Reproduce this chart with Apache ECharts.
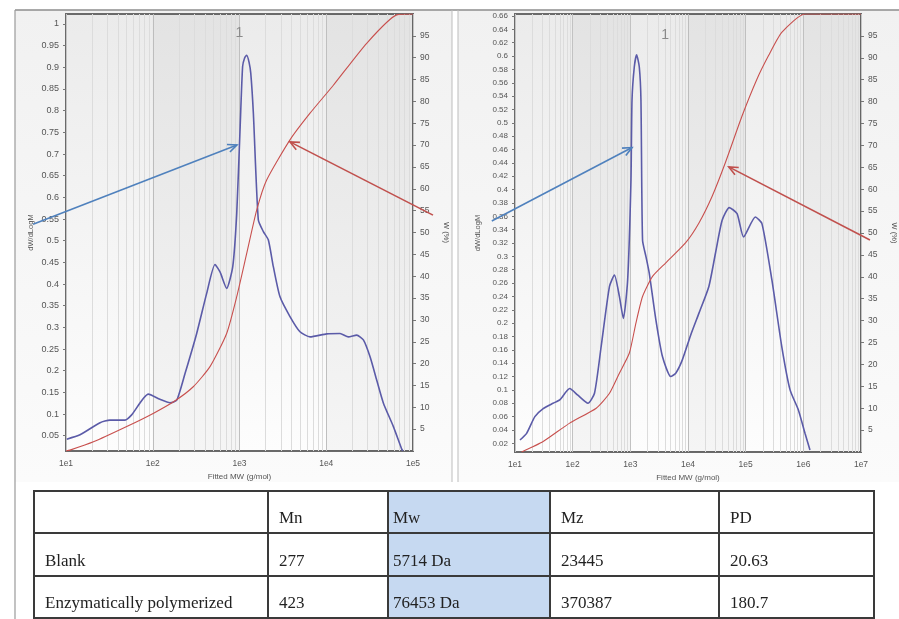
<!DOCTYPE html>
<html><head><meta charset="utf-8">
<script src="https://cdn.jsdelivr.net/npm/echarts@6/dist/echarts.min.js"></script>
<style>
html,body{margin:0;padding:0;background:#fff;}
#chart{position:absolute;left:0;top:0;width:899px;height:619px;}
#tbl{position:absolute;left:33px;top:490px;width:840px;table-layout:fixed;border-collapse:collapse;font-family:'Liberation Serif','Times New Roman',serif;font-size:17px;color:#222;}
#tbl td{border:2px solid #3a3a3a;padding:12px 0 0 10px;vertical-align:middle;white-space:nowrap;overflow:hidden;}
#tbl td.mw{background:#c6d9f1;padding-left:4px;}
</style></head><body>
<div id="chart"></div>
<table id="tbl"></table>
<script>
// ---------- data ----------
const xLabelsA = ['1e1','1e2','1e3','1e4','1e5'];
const xLabelsB = ['1e1','1e2','1e3','1e4','1e5','1e6','1e7'];
const dwTicksA = [0.05,0.1,0.15,0.2,0.25,0.3,0.35,0.4,0.45,0.5,0.55,0.6,0.65,0.7,0.75,0.8,0.85,0.9,0.95,1];
const dwTicksB = [0.02,0.04,0.06,0.08,0.1,0.12,0.14,0.16,0.18,0.2,0.22,0.24,0.26,0.28,0.3,0.32,0.34,0.36,0.38,0.4,0.42,0.44,0.46,0.48,0.5,0.52,0.54,0.56,0.58,0.6,0.62,0.64,0.66];
const wTicks = [5,10,15,20,25,30,35,40,45,50,55,60,65,70,75,80,85,90,95];

// Blank sample: dW/dLogM vs MW
const blankDW = [[10.2,0.042],[14.5,0.052],[24.7,0.080],[32.1,0.086],[47.9,0.086],[57.1,0.098],[88.9,0.146],[121,0.134],[158,0.126],[189,0.132],[236,0.194],[321,0.286],[419,0.379],[522,0.445],[596,0.428],[711,0.390],[836,0.440],[929,0.563],[1014,0.755],[1086,0.902],[1148,0.922],[1211,0.928],[1288,0.912],[1349,0.886],[1445,0.794],[1648,0.548],[1884,0.521],[2148,0.502],[2455,0.44],[2924,0.371],[3819,0.325],[4977,0.29],[6501,0.278],[10116,0.285],[14421,0.286],[17989,0.278],[22439,0.282],[26792,0.271],[31989,0.232],[38194,0.178],[45604,0.125],[59429,0.071],[74131,0.019],[76500,0.015]];
// Blank sample: cumulative W (%)
const blankW = [[10,0],[11.1,0.2],[20.7,2.1],[50.1,5.6],[101,8.6],[181,11.5],[293,14.7],[457,19.3],[711,26.9],[929,35.3],[1211,45.2],[1578,55.1],[2056,62.0],[3819,71.2],[6501,77.3],[12078,83.7],[29242,93.3],[64863,99.8],[100000,100]];
// Enzymatically polymerized: dW/dLogM
const enzDW = [[12.2,0.025],[15.9,0.035],[22.1,0.060],[30.8,0.072],[45.7,0.080],[59.7,0.085],[88.7,0.102],[123,0.092],[184,0.080],[239,0.095],[312,0.165],[435,0.255],[530,0.272],[646,0.24],[757,0.207],[899,0.265],[1026,0.414],[1069,0.534],[1172,0.584],[1285,0.602],[1429,0.584],[1528,0.534],[1629,0.324],[1862,0.30],[2128,0.275],[2773,0.205],[3606,0.15],[5023,0.12],[6124,0.125],[7980,0.145],[11117,0.182],[15488,0.215],[23014,0.255],[29992,0.305],[39084,0.354],[52000,0.373],[70958,0.364],[92000,0.329],[146893,0.359],[191426,0.349],[284446,0.265],[422669,0.165],[588844,0.1],[820352,0.07],[1069055,0.035],[1303167,0.01]];
// Enzymatically polymerized: cumulative W (%)
const enzW = [[13,0],[30.8,2.4],[88.7,6.6],[256,10.0],[435,13.4],[646,18],[962,22.6],[1253,29.5],[1629,35.5],[2427,40.1],[4121,43.2],[9120,47.8],[15488,52.3],[26242,58.4],[44566,66.1],[86500,76.7],[156675,85.1],[249459,90.5],[422669,95.8],[1069055,100],[10000000,100]];

const minorA = [20,30,40,50,60,70,80,90,200,300,400,500,600,700,800,900,2000,3000,4000,5000,6000,7000,8000,9000,20000,30000,40000,50000,60000,70000,80000,90000];
const minorB = [20,30,40,50,60,70,80,90,200,300,400,500,600,700,800,900,2000,3000,4000,5000,6000,7000,8000,9000,20000,30000,40000,50000,60000,70000,80000,90000,200000,300000,400000,500000,600000,700000,800000,900000,2000000,3000000,4000000,5000000,6000000,7000000,8000000,9000000];
const bandsA = [[100,1000],[10000,100000]];
const bandsB = [[100,1000],[10000,100000],[1000000,10000000]];

// annotation anchors (data space)
const peakLabelA = [1000, 0.979];
const peakLabelB = [4009, 0.631];
const arrowsA = [{from:[4.17,0.538], to:[935,0.721], color:'#4f81bd'},{from:[170000,0.559], to:[3819,0.728], color:'#c0504d'}];
const arrowsB = [{from:[3.96,0.353], to:[1069,0.463], color:'#4f81bd'},{from:[14300000,0.3245], to:[50930,0.434], color:'#c0504d'}];

const tableHeader = ['', 'Mn', 'Mw', 'Mz', 'PD'];
const tableRows = [
  ['Blank','277','5714 Da','23445','20.63'],
  ['Enzymatically polymerized','423','76453 Da','370387','180.7']
];
const colWidths = [234,120,162,169,155];
const rowHeights = [42,43,42];

// ---------- table ----------
(function(){
  const t = document.getElementById('tbl');
  const cg = document.createElement('colgroup');
  colWidths.forEach(w=>{const c=document.createElement('col'); c.style.width=w+'px'; cg.appendChild(c);});
  t.appendChild(cg);
  [tableHeader].concat(tableRows).forEach((r,ri)=>{
    const tr=document.createElement('tr'); tr.style.height=rowHeights[ri]+'px';
    r.forEach((v,ci)=>{const td=document.createElement('td'); td.textContent=v; if(ci===2) td.className='mw'; tr.appendChild(td);});
    t.appendChild(tr);
  });
})();

// ---------- chart ----------
const FONT = 'Liberation Sans, Arial, sans-serif';
const chart = echarts.init(document.getElementById('chart'), null, {renderer:'canvas'});
const gridBg = new echarts.graphic.LinearGradient(0,0,0,1,[{offset:0,color:'#ebebeb'},{offset:0.65,color:'#f7f7f7'},{offset:1,color:'#fdfdfd'}]);

function xAx(gi, max, labels){
  return {type:'log', logBase:10, gridIndex:gi, min:10, max:max,
    axisLine:{show:false}, axisTick:{show:false},
    axisLabel:{fontFamily:FONT, fontSize:8.5, color:'#555', margin:8,
      formatter:v=>labels[Math.round(Math.log10(v))-1]},
    splitLine:{show:true, lineStyle:{color:'#c4c4c4', width:1}},
    name:'Fitted MW (g/mol)', nameLocation:'middle', nameGap:22,
    nameTextStyle:{fontFamily:FONT, fontSize:8, color:'#555'}};
}
function yLeft(gi, min, max, ticks, gap, fs){
  return {type:'value', gridIndex:gi, position:'left', min:min, max:max,
    axisLine:{show:false}, splitLine:{show:false},
    axisTick:{show:true, customValues:ticks, length:3, lineStyle:{color:'#777'}},
    axisLabel:{customValues:ticks, fontFamily:FONT, fontSize:fs, color:'#555', margin:7, formatter:v=>String(v)},
    name:'dW/dLogM', nameLocation:'middle', nameRotate:90, nameGap:gap,
    nameTextStyle:{fontFamily:FONT, fontSize:7.5, color:'#555'}};
}
function yRight(gi, gap){
  return {type:'value', gridIndex:gi, position:'right', min:0, max:100,
    axisLine:{show:false}, splitLine:{show:false},
    axisTick:{show:true, customValues:wTicks, length:3, lineStyle:{color:'#777'}},
    axisLabel:{customValues:wTicks, fontFamily:FONT, fontSize:8.5, color:'#555', margin:7, formatter:v=>String(v)},
    name:'W (%)', nameLocation:'middle', nameRotate:-90, nameGap:gap,
    nameTextStyle:{fontFamily:FONT, fontSize:7.5, color:'#555'}};
}
function minorSeries(xi, yi, minors, bands){
  return {type:'line', xAxisIndex:xi, yAxisIndex:yi, data:[], z:1, silent:true,
    markLine:{silent:true, symbol:'none', z:1, animation:false, label:{show:false},
      lineStyle:{color:'#dcdcdc', width:1, type:'solid'},
      data:minors.map(v=>({xAxis:v}))},
    markArea:{silent:true, z:0, animation:false, itemStyle:{color:'rgba(0,0,0,0.03)'},
      data:bands.map(b=>[{xAxis:b[0]},{xAxis:b[1]}])}};
}
function curve(xi, yi, data, color, w){
  return {type:'line', xAxisIndex:xi, yAxisIndex:yi, data:data, showSymbol:false, symbol:'none',
    smooth:0.2, z:5, animation:false,
    lineStyle:{color:color, width:w}};
}

const option = {
  animation:false,
  backgroundColor:'#ffffff',
  grid:[
    {left:66, top:14, width:347, height:437, show:true, backgroundColor:gridBg, borderColor:'#6a6a6a', borderWidth:2},
    {left:515, top:14, width:348, height:438, show:true, backgroundColor:gridBg, borderColor:'#6a6a6a', borderWidth:2}
  ],
  xAxis:[xAx(0,100000,xLabelsA), xAx(1,10000000,xLabelsB)],
  yAxis:[yLeft(0,0.0147,1.0231,dwTicksA,31,9), yRight(0,29), yLeft(1,0.007,0.663,dwTicksB,33,8), yRight(1,29)],
  series:[
    minorSeries(0,0,minorA,bandsA),
    minorSeries(1,2,minorB,bandsB),
    curve(0,0,blankDW,'#5b5ba8',1.6),
    curve(0,1,blankW,'#c8504e',1.1),
    curve(1,2,enzDW,'#5b5ba8',1.6),
    curve(1,3,enzW,'#c8504e',1.1)
  ]
};
chart.setOption(option);

function arrowEls(p0, p1, color){
  const ang = Math.atan2(p1[1]-p0[1], p1[0]-p0[0]);
  const L = 10, a = 0.42;
  const h1 = [p1[0]-L*Math.cos(ang-a), p1[1]-L*Math.sin(ang-a)];
  const h2 = [p1[0]-L*Math.cos(ang+a), p1[1]-L*Math.sin(ang+a)];
  return [
    {type:'line', z:100, shape:{x1:p0[0],y1:p0[1],x2:p1[0],y2:p1[1]}, style:{stroke:color, lineWidth:1.6}},
    {type:'polyline', z:100, shape:{points:[h1,p1,h2]}, style:{stroke:color, lineWidth:1.6, fill:null}}
  ];
}
const g = [];
const panelBg = new echarts.graphic.LinearGradient(0,0,0,1,[{offset:0,color:'#f1f1f1'},{offset:1,color:'#fbfbfb'}]);
g.push({type:'rect', z:-10, shape:{x:15,y:10,width:437,height:472}, style:{fill:panelBg}});
g.push({type:'rect', z:-10, shape:{x:458,y:10,width:441,height:472}, style:{fill:panelBg}});
g.push({type:'line', z:50, shape:{x1:15,y1:10,x2:899,y2:10}, style:{stroke:'#8c8c8c', lineWidth:1.5}});
g.push({type:'line', z:50, shape:{x1:15,y1:10,x2:15,y2:619}, style:{stroke:'#9a9a9a', lineWidth:1.2}});
g.push({type:'line', z:50, shape:{x1:452,y1:10,x2:452,y2:482}, style:{stroke:'#bdbdbd', lineWidth:1}});
g.push({type:'line', z:50, shape:{x1:458,y1:10,x2:458,y2:482}, style:{stroke:'#bdbdbd', lineWidth:1}});
arrowsA.forEach(a=>{
  const p0 = chart.convertToPixel({xAxisIndex:0, yAxisIndex:0}, a.from);
  const p1 = chart.convertToPixel({xAxisIndex:0, yAxisIndex:0}, a.to);
  g.push(...arrowEls(p0,p1,a.color));
});
arrowsB.forEach(a=>{
  const p0 = chart.convertToPixel({xAxisIndex:1, yAxisIndex:2}, a.from);
  const p1 = chart.convertToPixel({xAxisIndex:1, yAxisIndex:2}, a.to);
  g.push(...arrowEls(p0,p1,a.color));
});
const lA = chart.convertToPixel({xAxisIndex:0, yAxisIndex:0}, peakLabelA);
const lB = chart.convertToPixel({xAxisIndex:1, yAxisIndex:2}, peakLabelB);
[lA,lB].forEach(p=>g.push({type:'text', z:60, x:p[0], y:p[1], style:{text:'1', fill:'#8a8a8a', font:'14px '+FONT, align:'center', verticalAlign:'middle'}}));
chart.setOption({graphic:g});
</script>
</body></html>
